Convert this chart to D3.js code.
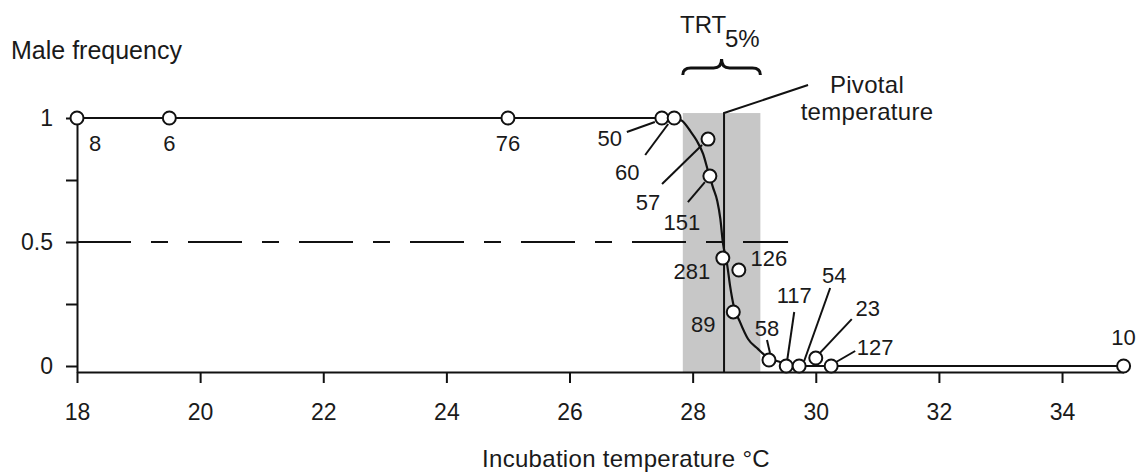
<!DOCTYPE html>
<html lang="en">
<head>
  <meta charset="UTF-8">
  <title>Male frequency vs incubation temperature</title>
  <script src="https://d3js.org/d3.v7.min.js"></script>
  <style>
    body { margin: 0; background: #fff; }
    svg { display: block; font-family: "Liberation Sans", Arial, Helvetica, sans-serif; }
    text { fill: #1a1a1a; }
  </style>
</head>
<body>
  <div id="viz"></div>
  <script>
    // observed clutches: temperature, male frequency, number of eggs
    const pointTemp = [18, 19.5, 25, 27.5, 27.7, 28.25, 28.28, 28.49, 28.75, 28.66, 29.24, 29.52, 29.73, 30, 30.25, 35];
    const pointFreq = [1, 1, 1, 1, 1, 0.915, 0.766, 0.435, 0.387, 0.218, 0.024, 0, 0, 0.032, 0, 0];
    const pointN = ["8", "6", "76", "50", "60", "57", "151", "281", "126", "89", "58", "117", "54", "23", "127", "10"];

    // fitted curve
    const curveTemp = [18, 27.71, 27.83, 27.96, 28.07, 28.17, 28.25, 28.33, 28.40, 28.45, 28.49, 28.56, 28.61, 28.66, 28.77, 28.90, 29.06, 29.21, 29.42, 29.66, 35];
    const curveFreq = [1, 1, 0.988, 0.948, 0.907, 0.855, 0.786, 0.72, 0.665, 0.593, 0.5, 0.41, 0.32, 0.25, 0.177, 0.109, 0.069, 0.036, 0.016, 0, 0];

    const xTicks = [18, 20, 22, 24, 26, 28, 30, 32, 34];
    const yTicks = [0, 0.25, 0.5, 0.75, 1];
    const yLabels = ["0", "", "0.5", "", "1"];

    const trtRange = [27.84, 29.1];   // TRT 5%
    const pivotalTemp = 28.51;
    const halfLineEnd = 29.55;

    const width = 1141, height = 474;
    const svg = d3.select("#viz").append("svg")
      .attr("width", width)
      .attr("height", height);

    svg.append("rect").attr("width", width).attr("height", height).attr("fill", "#fff");

    const x = d3.scaleLinear().domain([18, 35]).range([77, 1123.6]);
    const y = d3.scaleLinear().domain([0, 1]).range([366, 118]);
    const axisY = 372;
    const yAxisScale = y.copy().domain([y.invert(axisY), 1]).range([axisY, 118]);

    // shaded TRT band
    svg.append("rect")
      .attr("x", x(trtRange[0]))
      .attr("y", y(1.02))
      .attr("width", x(trtRange[1]) - x(trtRange[0]))
      .attr("height", axisY - y(1.02))
      .attr("fill", "#c7c7c7");

    // axes
    const xAxis = svg.append("g")
      .attr("transform", `translate(0,${axisY})`)
      .call(d3.axisBottom(x).tickValues(xTicks).tickSize(11).tickSizeOuter(0).tickPadding(21));
    const yAxis = svg.append("g")
      .attr("transform", `translate(${x(18)},0)`)
      .call(d3.axisLeft(yAxisScale).tickValues(yTicks).tickSize(11).tickSizeOuter(0).tickPadding(13)
        .tickFormat((d, i) => yLabels[i]));
    [xAxis, yAxis].forEach(g => {
      g.select(".domain").attr("stroke", "#111").attr("stroke-width", 2);
      g.selectAll(".tick line").attr("stroke", "#111").attr("stroke-width", 2);
      g.selectAll(".tick text").attr("font-size", "23px").attr("fill", "#1a1a1a")
        .attr("font-family", "\"Liberation Sans\", Arial, sans-serif");
    });

    // 0.5 dashed line
    svg.append("line")
      .attr("x1", x(18)).attr("x2", x(halfLineEnd))
      .attr("y1", y(0.5)).attr("y2", y(0.5))
      .attr("stroke", "#111").attr("stroke-width", 2)
      .attr("stroke-dasharray", "54,20,17,20");

    // pivotal temperature line and its leader
    const pivTop = y(1.02);
    svg.append("path")
      .attr("d", `M${x(pivotalTemp)},${axisY}V${pivTop}L${x(pivotalTemp) + 84},${pivTop - 28}`)
      .attr("fill", "none").attr("stroke", "#111").attr("stroke-width", 2);

    svg.append("text").attr("x", 867).attr("y", 93).attr("text-anchor", "middle")
      .attr("font-size", "24px").attr("letter-spacing", "0.3px").text("Pivotal");
    svg.append("text").attr("x", 867).attr("y", 120).attr("text-anchor", "middle")
      .attr("font-size", "24px").attr("letter-spacing", "0.3px").text("temperature");

    // fitted curve
    const curveData = curveTemp.map((t, i) => [t, curveFreq[i]]);
    svg.append("path")
      .datum(curveData)
      .attr("fill", "none")
      .attr("stroke", "#111")
      .attr("stroke-width", 2.2)
      .attr("d", d3.line().x(d => x(d[0])).y(d => y(d[1])).curve(d3.curveMonotoneX));

    // TRT brace
    const b0 = x(trtRange[0]), b1 = x(trtRange[1]), bm = (b0 + b1) / 2;
    svg.append("path")
      .attr("d", `M${b0},75 Q${b0},68 ${b0 + 8},68 L${bm - 8},68 Q${bm},68 ${bm},59 Q${bm},68 ${bm + 8},68 L${b1 - 8},68 Q${b1},68 ${b1},75`)
      .attr("fill", "none").attr("stroke", "#111").attr("stroke-width", 3);
    svg.append("text").attr("x", 680).attr("y", 33).attr("font-size", "24px").text("TRT");
    svg.append("text").attr("x", 725).attr("y", 47).attr("font-size", "24px").text("5%");

    svg.append("text").attr("x", 11).attr("y", 59).attr("font-size", "25px").text("Male frequency");
    svg.append("text").attr("x", 626).attr("y", 467).attr("text-anchor", "middle")
      .attr("font-size", "24px").attr("letter-spacing", "0.3px").text("Incubation temperature °C");

    // label placement, offsets from each point: [dx, dy] and optional leader [x1, y1, x2, y2]
    const labelLayout = [
      { d: [18, 25] }, { d: [0, 25] }, { d: [0, 25] },
      { d: [-52, 20], l: [-35, 14, -7, 4] },
      { d: [-47, 54], l: [-29, 37, -6, 6] },
      { d: [-60, 63], l: [-46, 45, -6, 6] },
      { d: [-28, 46], l: [-22, 26, -5, 6] },
      { d: [-31, 13] },
      { d: [30, -12] },
      { d: [-30, 12] },
      { d: [-2, -32], l: [-2, -20, 1, -7] },
      { d: [8, -71], l: [8, -54, 1, -6] },
      { d: [35, -91], l: [31, -78, 5, -5] },
      { d: [52, -50], l: [36, -39, 4, -5] },
      { d: [44, -19], l: [24, -15, 5, -4] },
      { d: [0, -29] }
    ];
    const points = pointTemp.map((t, i) => ({ t, f: pointFreq[i], n: pointN[i], lay: labelLayout[i] }));

    svg.selectAll("line.leader")
      .data(points.filter(p => p.lay.l))
      .enter().append("line")
      .attr("class", "leader")
      .attr("x1", p => x(p.t) + p.lay.l[0]).attr("y1", p => y(p.f) + p.lay.l[1])
      .attr("x2", p => x(p.t) + p.lay.l[2]).attr("y2", p => y(p.f) + p.lay.l[3])
      .attr("stroke", "#111").attr("stroke-width", 2);

    svg.selectAll("circle")
      .data(points)
      .enter().append("circle")
      .attr("cx", p => x(p.t))
      .attr("cy", p => y(p.f))
      .attr("r", 6.5)
      .attr("fill", "#fff")
      .attr("stroke", "#111")
      .attr("stroke-width", 2);

    svg.selectAll("text.n")
      .data(points)
      .enter().append("text")
      .attr("class", "n")
      .attr("x", p => x(p.t) + p.lay.d[0])
      .attr("y", p => y(p.f) + p.lay.d[1])
      .attr("dy", "0.36em")
      .attr("text-anchor", "middle")
      .attr("font-size", "22px")
      .text(p => p.n);
  </script>
</body>
</html>
